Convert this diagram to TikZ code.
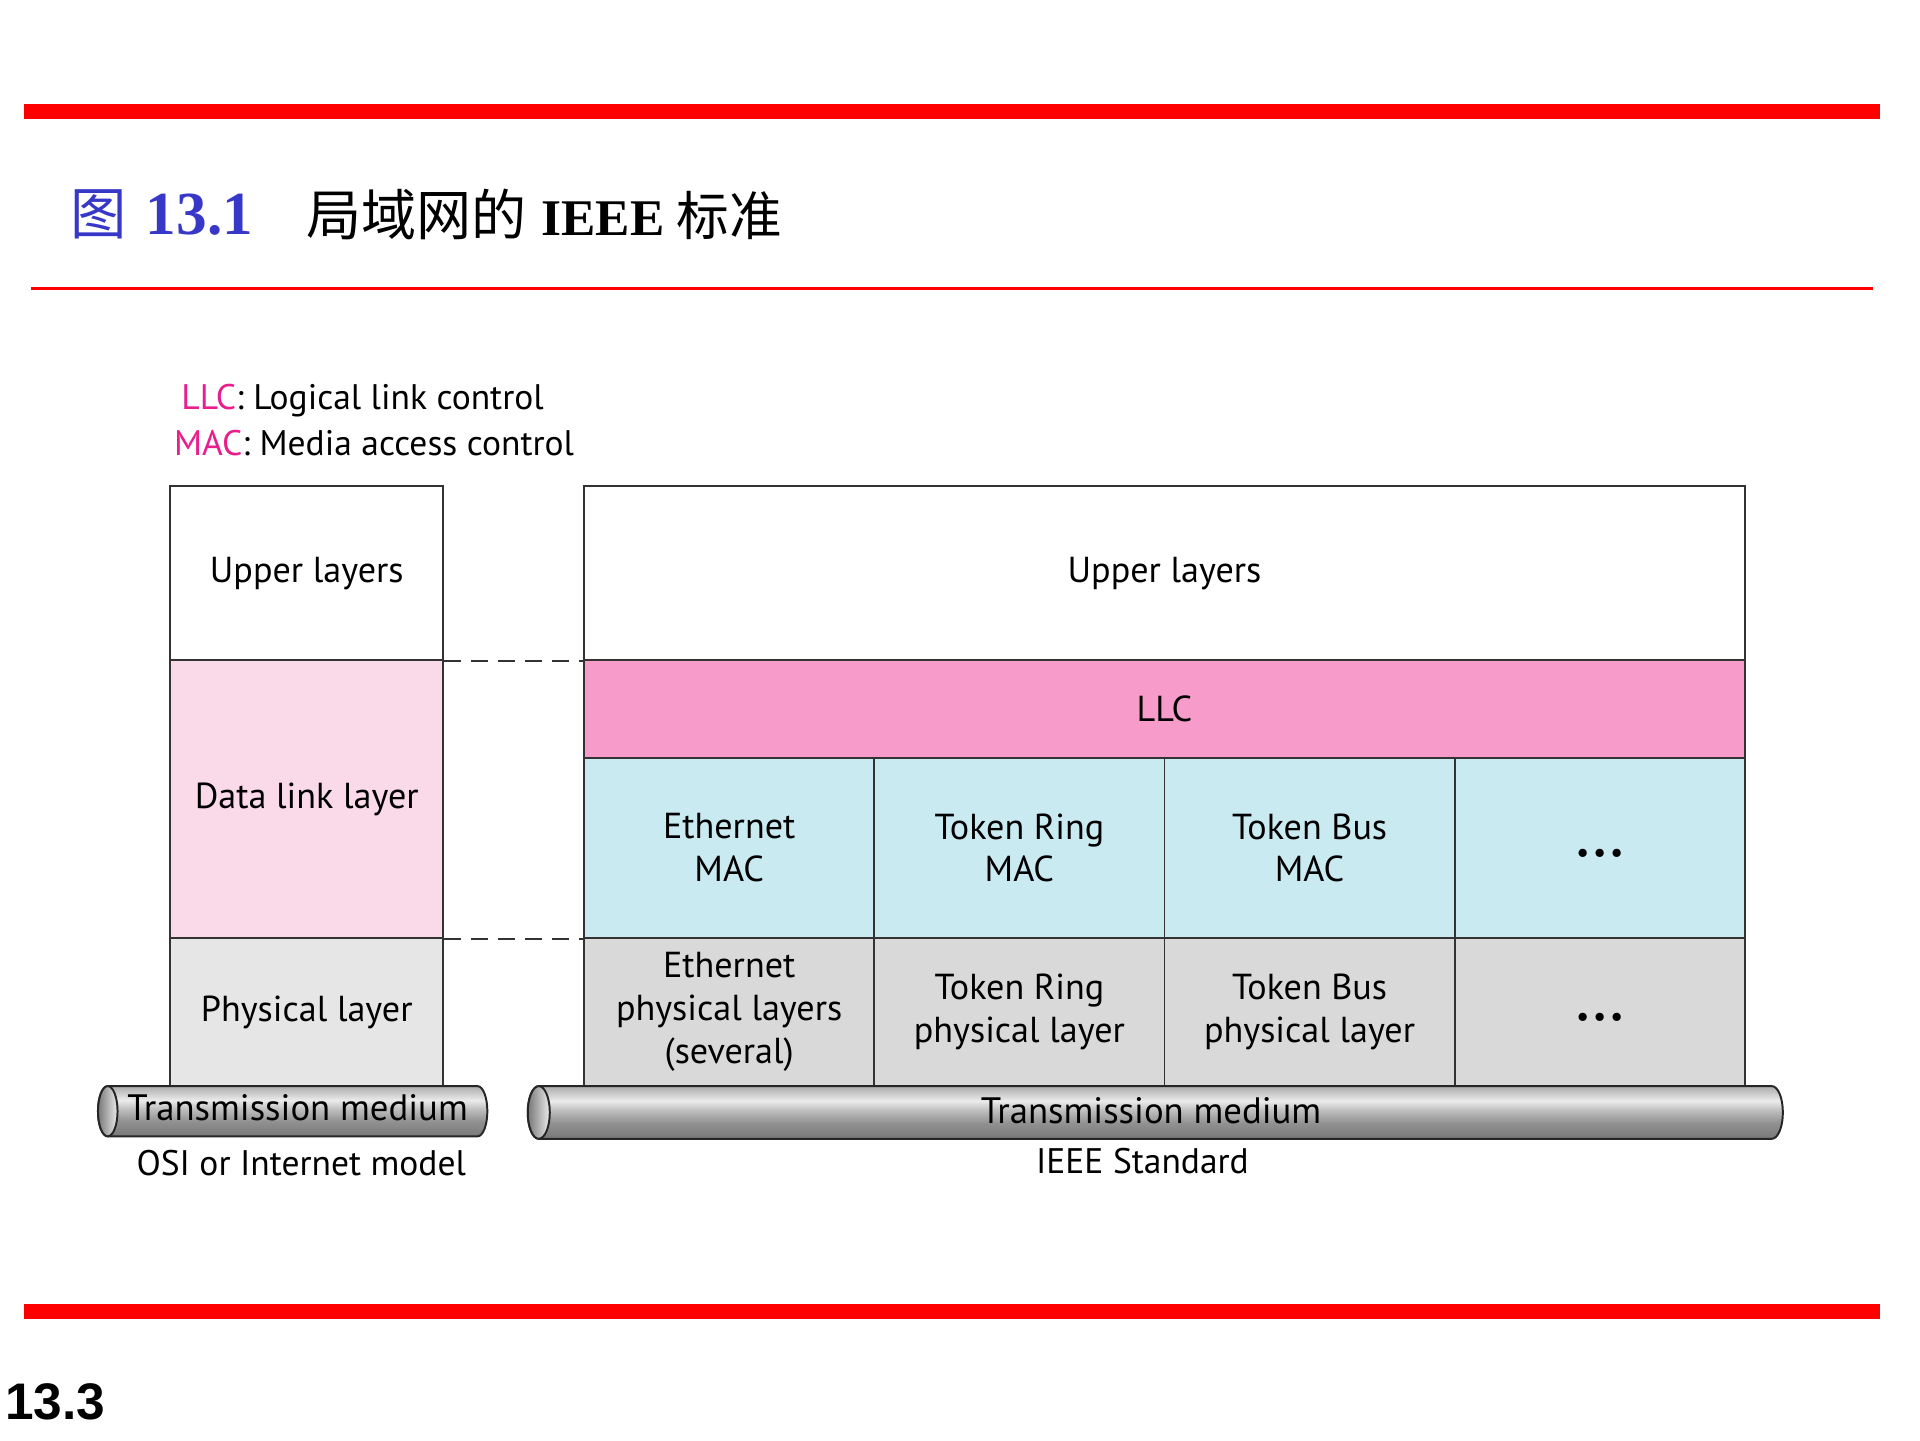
\documentclass[tikz,border=0pt]{standalone}
\usepackage{fontspec}
\setmainfont{PT Sans}
\newfontfamily\cjk{Noto Sans CJK SC}
\newfontfamily\titleserif{Liberation Serif}
\newfontfamily\pagefont{Liberation Sans}
\usetikzlibrary{positioning}

\definecolor{slidered}{RGB}{255,0,0}
\definecolor{figblue}{RGB}{56,56,200}
\definecolor{keypink}{RGB}{233,30,140}
\definecolor{llcpink}{RGB}{247,155,203}
\definecolor{dllpink}{RGB}{250,217,233}
\definecolor{macblue}{RGB}{202,234,242}
\definecolor{phygray}{RGB}{217,217,217}
\definecolor{osigray}{RGB}{230,230,230}
\definecolor{edge}{RGB}{51,51,51}
\definecolor{tubedark}{RGB}{120,120,120}
\definecolor{tubemid}{RGB}{145,145,145}
\definecolor{tubesoft}{RGB}{190,190,190}
\definecolor{tubelight}{RGB}{235,235,235}
\definecolor{tubetop}{RGB}{172,172,172}

\pgfdeclareverticalshading{tube}{100bp}{color(0bp)=(tubedark); color(25bp)=(tubedark);
  color(40bp)=(tubemid); color(52bp)=(tubesoft); color(61bp)=(tubelight);
  color(75bp)=(tubetop); color(100bp)=(tubetop)}

\newcommand{\moredots}{\raisebox{-12pt}[0pt][0pt]{\fontsize{24}{24}\selectfont\textbullet\hspace{3pt}\textbullet\hspace{3pt}\textbullet}}

\begin{document}
\begin{tikzpicture}[x=1pt, y=-1pt,
    box/.style={draw=edge, line width=1.6pt, inner sep=0pt, align=center,
      font=\fontsize{29.5}{35}\selectfont},
    link/.style={draw=edge, line width=1.6pt, dash pattern=on 14pt off 8pt},
    tube/.style={draw=black!85, line width=1.6pt, shading=tube},
    caption/.style={font=\fontsize{29}{33}\selectfont, inner sep=0pt}]
  \useasboundingbox (0,0) rectangle (1568,1176);

  % slide rules and title
  \fill[slidered] (20,85) rectangle (1535,97);
  \fill[slidered] (25,234) rectangle (1530,237);
  \fill[slidered] (20,1065) rectangle (1535,1077);
  \node[anchor=west, inner sep=0pt, text=figblue] (figno) at (57,175)
    {{\cjk\fontsize{46}{46}\selectfont 图}\hspace{16pt}{\titleserif\bfseries\fontsize{50}{50}\selectfont 13.1}};
  \node[anchor=west, inner sep=0pt] (figtitle) at (250,175)
    {{\cjk\fontsize{45}{45}\selectfont 局域网的}\hspace{12pt}{\titleserif\bfseries\fontsize{42}{42}\selectfont IEEE}\hspace{10pt}{\cjk\fontsize{43}{43}\selectfont 标准}};
  \node[anchor=south west, inner sep=0pt, font=\pagefont\bfseries\fontsize{42}{42}\selectfont] (pageno) at (4,1160) {13.3};

  % key
  \node[caption, anchor=west] (keyllc) at (148,327) {\textcolor{keypink}{LLC}: Logical link control};
  \node[caption, anchor=west] (keymac) at (142,362) {\textcolor{keypink}{MAC}: Media access control};

  % OSI stack
  \node[box, minimum width=223pt, minimum height=142pt] (osiupper) at (250.5,468) {Upper layers};
  \node[box, fill=dllpink, minimum width=223pt, minimum height=227pt] (osidll) at (250.5,652.5) {Data link layer};
  \node[box, fill=osigray, minimum width=223pt, minimum height=121pt] (osiphy) at (250.5,826.5) {Physical layer};

  % IEEE stack
  \node[box, minimum width=948pt, minimum height=142pt] (ieeeupper) at (951,468) {Upper layers};
  \node[box, fill=llcpink, minimum width=948pt, minimum height=80pt] (llc) at (951,579) {LLC};
  \foreach \name/\txt [count=\i] in {ethmac/{Ethernet\\MAC}, trmac/{Token Ring\\MAC},
      tbmac/{Token Bus\\MAC}, moremac/{\moredots}}
    \node[box, fill=macblue, minimum width=237pt, minimum height=147pt] (\name) at ({477+237*(\i-0.5)},692.5) {\txt};
  \foreach \name/\txt [count=\i] in {ethphy/{Ethernet\\physical layers\\(several)}, trphy/{Token Ring\\physical layer},
      tbphy/{Token Bus\\physical layer}, morephy/{\moredots}}
    \node[box, fill=phygray, minimum width=237pt, minimum height=121pt] (\name) at ({477+237*(\i-0.5)},826.5) {\txt};

  \draw[link] (osiupper.south east) -- (ieeeupper.south west);
  \draw[link] (osidll.south east) -- (ethmac.south west);

  % transmission media
  \draw[tube] (88,887) -- (390,887) arc[start angle=-90, end angle=90, x radius=8, y radius=20.5]
    -- (88,928) arc[start angle=90, end angle=270, x radius=8, y radius=20.5] -- cycle;
  \draw[draw=black!85, line width=1.6pt, left color=tubedark, right color=tubelight] (88,907.5) ellipse[x radius=8, y radius=20.5];
  \node[caption, font=\fontsize{30}{33}\selectfont] (osimedium) at (243,905) {Transmission medium};
  \node[caption] (osimodel) at (246,950) {OSI or Internet model};

  \draw[tube] (440,887) -- (1447,887) arc[start angle=-90, end angle=90, x radius=9, y radius=21.5]
    -- (440,930) arc[start angle=90, end angle=270, x radius=9, y radius=21.5] -- cycle;
  \draw[draw=black!85, line width=1.6pt, left color=tubedark, right color=tubelight] (440,908.5) ellipse[x radius=9, y radius=21.5];
  \node[caption, font=\fontsize{30}{33}\selectfont] (ieeemedium) at (940,907) {Transmission medium};
  \node[caption] (ieeemodel) at (933,948) {IEEE Standard};
\end{tikzpicture}
\end{document}
